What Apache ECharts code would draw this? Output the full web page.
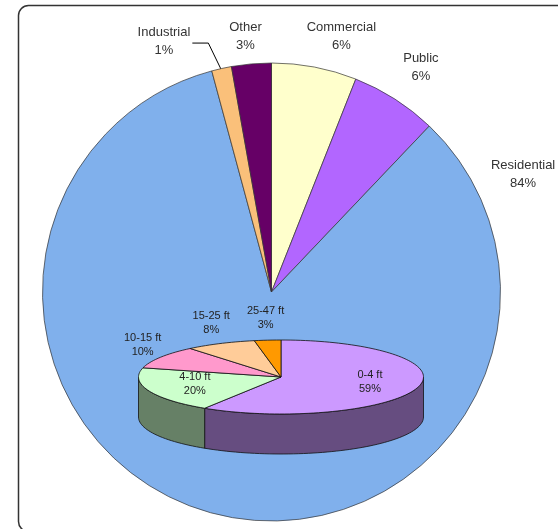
<!DOCTYPE html>
<html><head><meta charset="utf-8">
<script src="https://cdn.jsdelivr.net/npm/echarts@6/dist/echarts.min.js"></script>
<style>html,body{margin:0;padding:0;background:#fff;overflow:hidden}#c{width:558px;height:529px}</style>
</head><body><div id="c"></div>
<script>
// Main pie: land-use sectors (clockwise from 12 o'clock)
const sectors = ['Commercial', 'Public', 'Residential', 'Industrial', 'Other'];
const sectorShare = [6.0, 6.1, 83.7, 1.4, 2.8];
const sectorColors = ['#FFFFCC', '#B266FF', '#80B0EC', '#FAC07A', '#660066'];

// Inset 3D pie: depth bands (clockwise from 12 o'clock)
const depthBands = ['0-4 ft', '4-10 ft', '10-15 ft', '15-25 ft', '25-47 ft'];
const depthShare = [59, 20, 10, 8, 3];
const depthColors = ['#CC99FF', '#CCFFCC', '#FF99CC', '#FFCC99', '#FF9900'];

// ---- layout / style config ----
const MAIN = { cx: 271.5, cy: 292, r: 229 };
// label anchor for each main slice: [angle deg clockwise from top, distance from centre]
const mainLabelAnchor = [[15.3, 264.7], [33.6, 270], [65.0, 277.6], [-23.2, 273], [-5.8, 257.3]];
const INSET = { cx: 281, cy: 377, rx: 142.5, ry: 37, depth: 40 };
const FONT = 'Liberation Sans, Arial, sans-serif';

const chart = echarts.init(document.getElementById('c'), null, { renderer: 'canvas' });

const depthTotal = depthShare.reduce((a, b) => a + b, 0);
const depthStart = [];
(function () { let acc = 0; depthShare.forEach(v => { depthStart.push(acc); acc += v; }); })();
const sectorTotal = sectorShare.reduce((a, b) => a + b, 0);
const sectorStart = [];
(function () { let acc = 0; sectorShare.forEach(v => { sectorStart.push(acc); acc += v; }); })();

function darken(hex) {
  const n = parseInt(hex.slice(1), 16);
  const r = Math.round(((n >> 16) & 255) * 0.5), g = Math.round(((n >> 8) & 255) * 0.5), b = Math.round((n & 255) * 0.5);
  return 'rgb(' + r + ',' + g + ',' + b + ')';
}
function ePt(a, kx, ky, dy) {
  const t = a * Math.PI / 180;
  return [INSET.cx + INSET.rx * kx * Math.sin(t), INSET.cy - INSET.ry * ky * Math.cos(t) + (dy || 0)];
}
function arcPts(a0, a1, dy) {
  const pts = [];
  const n = Math.max(2, Math.ceil((a1 - a0) / 2));
  for (let j = 0; j <= n; j++) pts.push(ePt(a0 + (a1 - a0) * j / n, 1, 1, dy));
  return pts;
}

function polarPt(angle, dist) {
  const t = angle * Math.PI / 180;
  return [MAIN.cx + dist * Math.sin(t), MAIN.cy - dist * Math.cos(t)];
}

const option = {
  animation: false,
  backgroundColor: '#fff',
  graphic: [{
    type: 'rect', z: -10, silent: true,
    shape: { x: 18.5, y: 5.5, width: 620, height: 526, r: 10 },
    style: { fill: 'none', stroke: '#333', lineWidth: 1.5 }
  }],
  series: [
    {
      type: 'pie',
      center: [MAIN.cx, MAIN.cy],
      radius: [0, MAIN.r],
      startAngle: 90,
      clockwise: true,
      percentPrecision: 0,
      avoidLabelOverlap: false,
      itemStyle: { borderColor: '#333', borderWidth: 0.7 },
      emphasis: { disabled: true },
      label: {
        show: true, position: 'outside',
        formatter: '{b}\n{d}%',
        fontFamily: FONT, fontSize: 13, color: '#333', lineHeight: 18
      },
      labelLine: { show: false, length: 10, length2: 10 },
      labelLayout: function (p) {
        const i = p.dataIndex;
        const a = mainLabelAnchor[i];
        const pt = polarPt(a[0], a[1]);
        const res = { x: pt[0], y: pt[1], align: 'center', verticalAlign: 'middle' };
        if (sectors[i] === 'Industrial') {
          const mid = (sectorStart[i] + sectorShare[i] / 2) / sectorTotal * 360;
          const edge = polarPt(mid - 360 * 0, MAIN.r * 0.985);
          // slice runs counter-clockwise side (negative angles)
          const e2 = polarPt(mid, MAIN.r * 0.985);
          const right = pt[0] + p.labelRect.width / 2 + 2;
          res.labelLinePoints = [[e2[0], e2[1]], [right + 16, pt[1] + 2], [right, pt[1] + 2]];
        }
        return res;
      },
      data: sectors.map((s, i) => ({
        name: s, value: sectorShare[i],
        itemStyle: { color: sectorColors[i] },
        labelLine: s === 'Industrial' ? { show: true, lineStyle: { color: '#000', width: 1 } } : { show: false }
      }))
    },
    {
      type: 'custom',
      coordinateSystem: 'none',
      z: 5,
      silent: true,
      data: depthShare.map(v => [v]),
      renderItem: function (params, api) {
        const i = params.dataIndex;
        const v = api.value(0);
        const a0 = depthStart[i] / depthTotal * 360;
        const a1 = (depthStart[i] + v) / depthTotal * 360;
        const col = depthColors[i];
        const children = [];
        const s0 = Math.max(a0, 90), s1 = Math.min(a1, 270);
        if (s1 > s0) {
          const top = arcPts(s0, s1, 0);
          const bot = arcPts(s0, s1, INSET.depth).reverse();
          children.push({ type: 'polygon', shape: { points: top.concat(bot) },
            style: { fill: darken(col), stroke: '#111', lineWidth: 0.8 } });
        }
        const pts = [[INSET.cx, INSET.cy]].concat(arcPts(a0, a1, 0));
        children.push({ type: 'polygon', shape: { points: pts },
          style: { fill: col, stroke: '#111', lineWidth: 0.8 } });
        const pct = Math.round(v / depthTotal * 100);
        const mid = (a0 + a1) / 2;
        const lp = pct >= 15 ? ePt(mid, 0.65, 0.5, 0) : ePt(mid, 1.15, 1.6, 0);
        children.push({ type: 'text', z2: 10,
          style: { text: depthBands[i] + '\n' + pct + '%', x: lp[0], y: lp[1],
            align: 'center', verticalAlign: 'middle',
            font: '11px ' + FONT, fill: '#222', lineHeight: 14 } });
        return { type: 'group', children: children };
      }
    }
  ]
};
chart.setOption(option);
</script>
</body></html>
